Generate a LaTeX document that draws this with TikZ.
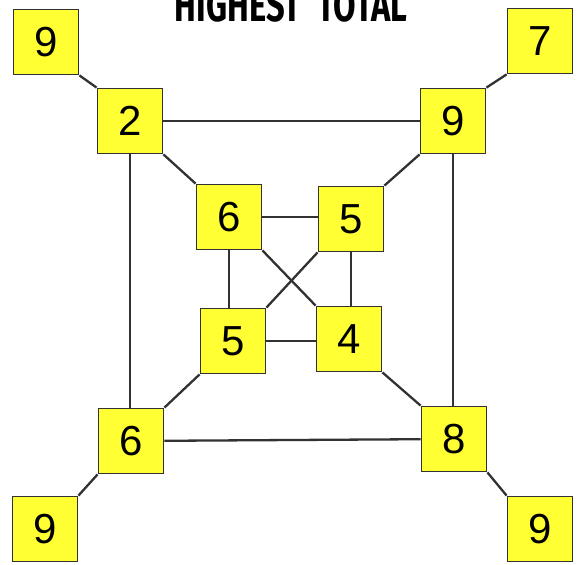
\documentclass[tikz,border=0pt]{standalone}
\usepackage{fontspec}
\setmainfont{Liberation Sans}
\newfontfamily\titlefont{Fira Sans}
\definecolor{boxyellow}{RGB}{255,255,51}
\definecolor{linegray}{RGB}{50,50,50}
\begin{document}
\begin{tikzpicture}[x=1pt,y=-1pt,
  numbox/.style={draw=linegray,line width=1.8pt,fill=boxyellow,
    minimum width=65pt,minimum height=65pt,inner sep=0pt,
    font=\fontsize{42}{42}\selectfont},
  link/.style={draw=linegray,line width=2.3pt}]
\useasboundingbox (0,0) rectangle (580,564);
\clip (0,0) rectangle (580,564);
\node[anchor=base,xscale=0.71,font=\titlefont\bfseries\fontsize{46}{46}\selectfont] (title) at (291,22) {HIGHEST~~TOTAL};
% boxes
\node[numbox] (tl) at (46,42) {9};
\node[numbox] (tr) at (540,41) {7};
\node[numbox] (bl) at (45,529) {9};
\node[numbox] (br) at (540,529) {9};
\node[numbox] (a) at (130,121) {2};
\node[numbox] (b) at (453,121) {9};
\node[numbox] (c) at (131,441) {6};
\node[numbox] (d) at (454,439) {8};
\node[numbox] (e) at (229,217) {6};
\node[numbox] (f) at (351,219) {5};
\node[numbox] (g) at (233,341) {5};
\node[numbox] (h) at (349,339) {4};
% connectors
\draw[link] (tl.south east) -- (a.north west);
\draw[link] (tr.south west) -- (b.north east);
\draw[link] (bl.north east) -- (c.south west);
\draw[link] (br.north west) -- (d.south east);
\draw[link] (a) -- (b);
\draw[link] (c) -- (d);
\draw[link] (a.south) -- (a.south |- c.north);
\draw[link] (b.south) -- (b.south |- d.north);
\draw[link] (a.south east) -- (e.north west);
\draw[link] (b.south west) -- (f.north east);
\draw[link] (c.north east) -- (g.south west);
\draw[link] (d.north west) -- (h.south east);
\draw[link] (e.east) -- (e.east -| f.west);
\draw[link] (g.east) -- (g.east -| h.west);
\draw[link] (e.south) -- (e.south |- g.north);
\draw[link] (f.south) -- (f.south |- h.north);
\draw[link] (e.south east) -- (h.north west);
\draw[link] (f.south west) -- (g.north east);
\end{tikzpicture}
\end{document}
